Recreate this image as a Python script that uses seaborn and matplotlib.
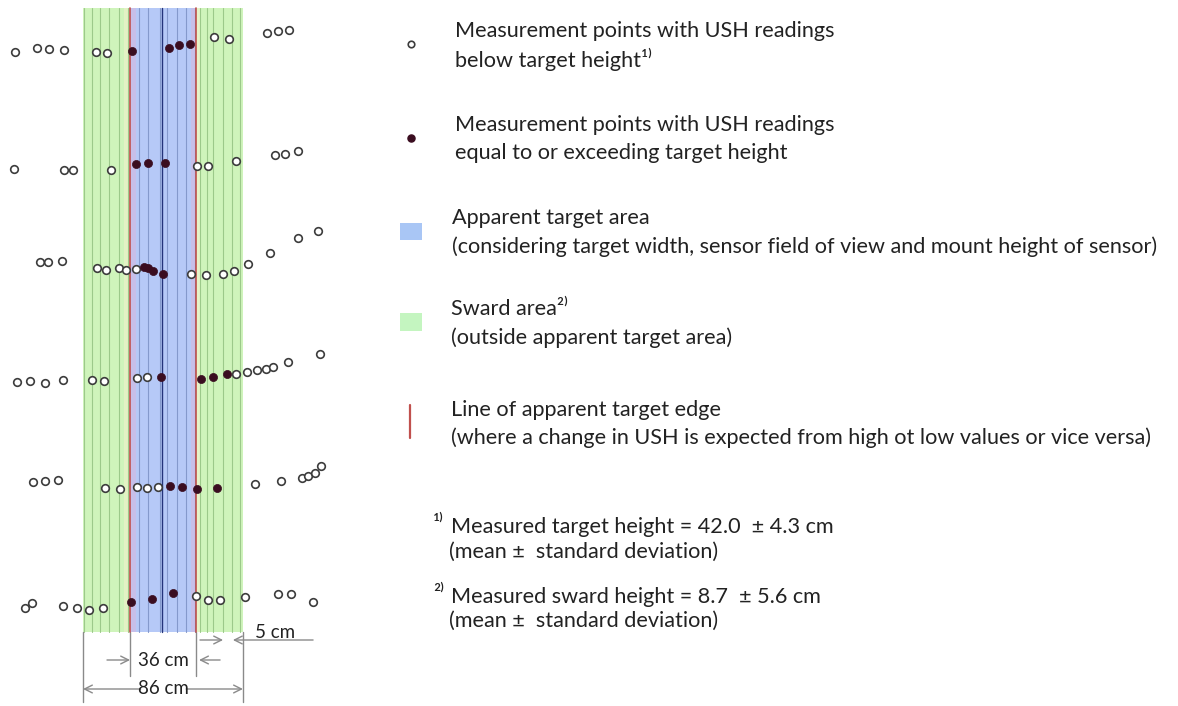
import numpy as np
import pandas as pd
import matplotlib
matplotlib.use("Agg")
import matplotlib.pyplot as plt
import seaborn as sns

# ---------------- data ----------------
# positions across the transect (cm, 0 = left edge of sward strip) and along it (row position)
below_x = [-36.6, -24.7, -18.3, -10.2, 7.0, 12.9, 70.4, 78.5, 98.9, 104.8, 110.8,
           -37.1, -10.2, -5.4, 15.1, 61.3, 67.2, 82.3, 103.2, 108.6, 115.6,
           -23.1, -18.8, -11.3, 7.5, 12.4, 19.4, 23.1, 28.5, 58.1, 66.1, 75.3, 81.2, 88.7, 100.5, 115.6, 126.3,
           -35.5, -28.5, -20.4, -10.8, 4.8, 11.3, 29.0, 34.4, 82.3, 88.2, 93.5, 98.4, 102.2, 110.2, 127.4,
           -26.9, -20.4, -13.4, 11.8, 19.9, 29.0, 34.4, 40.3, 92.5, 106.5, 117.7, 121.0, 124.7, 128.0,
           -31.2, -27.4, -10.8, -3.2, 3.2, 10.8, 60.8, 67.2, 73.7, 87.1, 104.8, 111.8, 123.7]
below_y = [52, 48, 49, 50, 52, 53, 37, 39, 33, 31, 30,
           169, 170, 170, 170, 166, 166, 161, 155, 154, 151,
           262, 262, 261, 268, 270, 268, 270, 269, 274, 275, 274, 271, 264, 253, 238, 231,
           382, 381, 383, 380, 380, 381, 378, 377, 374, 372, 370, 369, 367, 362, 354,
           482, 481, 480, 488, 489, 487, 488, 487, 484, 481, 478, 476, 473, 466,
           608, 603, 606, 608, 610, 608, 596, 600, 600, 597, 594, 594, 602]
above_x = [26.3, 46.2, 51.6, 57.5,
           28.5, 34.9, 44.1,
           32.8, 34.9, 37.6, 43.0,
           41.9, 63.4, 69.9, 77.4,
           46.8, 53.2, 61.3, 72.0,
           25.8, 37.1, 48.4]
above_y = [51, 48, 45, 44,
           164, 163, 163,
           267, 268, 271, 274,
           377, 379, 377, 374,
           486, 487, 489, 488,
           602, 599, 593]

zone_edges = [0, 25, 61, 86]            # sward | apparent target | sward (cm)
stripe_x = [0.5, 4.8, 9.1, 14.0, 19.4, 24.2, 30.0, 35.0, 41.4, 42.5, 45.0, 50.5,
            55.4, 60.0, 63.0, 66.7, 70.0, 75.0, 80.0, 84.4]
strip_top, strip_bottom = 8, 632

dim_labels = ["5 cm", "36 cm", "86 cm"]

legend_lines = [
    ("Measurement points with USH readings", "below target height\u00b9\u207e"),
    ("Measurement points with USH readings", "equal to or exceeding target height"),
    ("Apparent target area", "(considering target width, sensor field of view and mount height of sensor)"),
    ("Sward area\u00b2\u207e", "(outside apparent target area)"),
    ("Line of apparent target edge", "(where a change in USH is expected from high ot low values or vice versa)"),
]
footnotes = [
    ("\u00b9\u207e", "Measured target height = 42.0  \u00b1 4.3 cm", "(mean \u00b1  standard deviation)"),
    ("\u00b2\u207e", "Measured sward height = 8.7  \u00b1 5.6 cm", "(mean \u00b1  standard deviation)"),
]

# ---------------- style ----------------
sns.set_theme(style="white")
plt.rcParams['font.family'] = ['Lato', 'DejaVu Sans']

GREEN = "#cff4bb"
BLUE = "#b6c9f7"
RED = "#c0504d"
DARK = "#3a0d20"
TXT = "#222222"
GREY = "#8a8a8a"

W, H = 1178, 706
fig = plt.figure(figsize=(W / 100, H / 100), dpi=100)

PXCM = 1.86
X0 = 83
ax = fig.add_axes([0, 0, 1, 1])

ymin_f, ymax_f = 1 - strip_bottom / H, 1 - strip_top / H
# zones
ax.axvspan(zone_edges[0], zone_edges[1], ymin=ymin_f, ymax=ymax_f, color=GREEN, lw=0, zorder=0)
ax.axvspan(zone_edges[2], zone_edges[3], ymin=ymin_f, ymax=ymax_f, color=GREEN, lw=0, zorder=0)
ax.axvspan(zone_edges[1], zone_edges[2], ymin=ymin_f, ymax=ymax_f, color=BLUE, lw=0, zorder=0)
# pinkish / yellowish fringes at target edges
ax.axvspan(zone_edges[1], zone_edges[1] + 3.5, ymin=ymin_f, ymax=ymax_f, color="#c7bfe9", lw=0, zorder=0.5)
ax.axvspan(zone_edges[2] - 3.0, zone_edges[2], ymin=ymin_f, ymax=ymax_f, color="#c7bfe9", lw=0, zorder=0.5)
ax.axvspan(zone_edges[1] - 3.0, zone_edges[1], ymin=ymin_f, ymax=ymax_f, color="#e3f2c4", lw=0, zorder=0.5)
ax.axvspan(zone_edges[2], zone_edges[2] + 2.5, ymin=ymin_f, ymax=ymax_f, color="#e6f3c8", lw=0, zorder=0.5)

for xs in stripe_x:
    inside = zone_edges[1] < xs < zone_edges[2]
    col = "#8499cc" if inside else "#9cc98a"
    lw = 0.8
    if abs(xs - 42.5) < 0.01:
        col, lw = "#24347a", 1.0
    ax.plot([xs, xs], [strip_top, strip_bottom], color=col, lw=lw, zorder=1)

for xe in (zone_edges[1], zone_edges[2]):
    ax.plot([xe, xe], [strip_top, strip_bottom], color=RED, lw=1.2, zorder=2)

# points
df_below = pd.DataFrame({"x": below_x, "y": below_y})
df_above = pd.DataFrame({"x": above_x, "y": above_y})
sns.scatterplot(data=df_below, x="x", y="y", ax=ax, s=30, facecolor="white",
                edgecolor="#3c3c3c", linewidth=1.2, zorder=4, legend=False)
sns.scatterplot(data=df_above, x="x", y="y", ax=ax, s=34, color=DARK,
                edgecolor=DARK, linewidth=0.5, zorder=5, legend=False)
ax.set_xlim(-X0 / PXCM, (W - X0) / PXCM)
ax.set_ylim(H, 0)
ax.axis("off")

# dimension lines
for xe, yb in ((zone_edges[0], 702), (zone_edges[3], 702), (zone_edges[1], 676), (zone_edges[2], 676)):
    ax.plot([xe, xe], [strip_bottom, yb], color=GREY, lw=1.0, zorder=1)

arrow = dict(arrowstyle="->", color=GREY, lw=1.0, mutation_scale=14, shrinkA=0, shrinkB=0)
fs_dim = 13.5
# 5 cm
ax.annotate("", xy=(75.3, 640), xytext=(62.9, 640), arrowprops=arrow)
ax.annotate("", xy=(80.6, 640), xytext=(123.7, 640), arrowprops=arrow)
ax.text(103.5, 632, dim_labels[0], ha="center", va="center", fontsize=fs_dim, color=TXT)
# 36 cm
ax.annotate("", xy=(25.3, 660), xytext=(12.9, 660), arrowprops=arrow)
ax.annotate("", xy=(62.4, 660), xytext=(73.7, 660), arrowprops=arrow)
ax.text(43, 660, dim_labels[1], ha="center", va="center", fontsize=fs_dim, color=TXT)
# 86 cm
ax.annotate("", xy=(0, 689), xytext=(31.0, 689), arrowprops=arrow)
ax.annotate("", xy=(86, 689), xytext=(55.5, 689), arrowprops=arrow)
ax.text(43, 689, dim_labels[2], ha="center", va="center", fontsize=fs_dim, color=TXT)

# ---------------- legend (pixel coordinates) ----------------
lax = fig.add_axes([0, 0, 1, 1], facecolor="none")
lax.set_xlim(0, W)
lax.set_ylim(H, 0)
lax.axis("off")

fs = 15.6
ys = [(31, 59), (125, 153), (218, 247), (309, 338), (410, 438)]
xs_txt = [455, 455, 452, 451, 451]
for (l1, l2), (y1, y2), xt in zip(legend_lines, ys, xs_txt):
    lax.text(xt, y1, l1, ha="left", va="center", fontsize=fs, color=TXT)
    lax.text(xt, y2, l2, ha="left", va="center", fontsize=fs, color=TXT)

lax.scatter([411], [44], s=22, facecolor="white", edgecolor="#3c3c3c", linewidth=1.2, zorder=5)
lax.scatter([411], [138], s=26, color=DARK, zorder=5)
lax.fill_between([400, 422], [223, 223], [240, 240], color="#a9c6f5", lw=0)
lax.fill_between([400, 422], [313, 313], [331, 331], color="#c4f5c0", lw=0)
lax.plot([410, 410], [405, 438], color=RED, lw=1.6)

fys = [(527, 552), (597, 621)]
for (sup, l1, l2), (y1, y2) in zip(footnotes, fys):
    lax.text(433, y1 - 2, sup, ha="left", va="center", fontsize=fs, color=TXT)
    lax.text(451, y1, l1, ha="left", va="center", fontsize=fs, color=TXT)
    lax.text(449, y2, l2, ha="left", va="center", fontsize=fs, color=TXT)

fig.savefig("out.png", dpi=100, facecolor="white")
